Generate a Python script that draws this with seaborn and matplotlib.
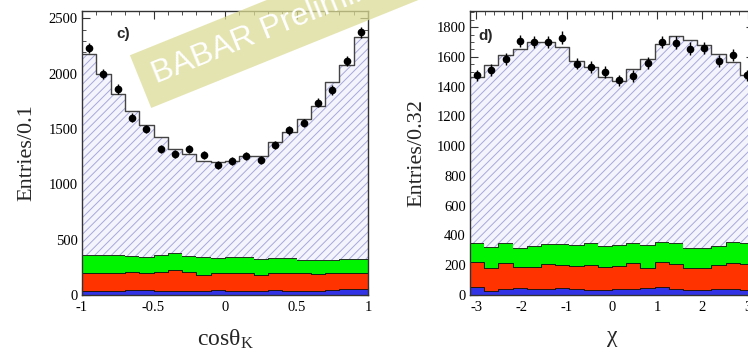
import numpy as np
import pandas as pd
import matplotlib
matplotlib.use("Agg")
import matplotlib.pyplot as plt
from matplotlib.ticker import MultipleLocator, FuncFormatter
from matplotlib.colors import to_rgba
import seaborn as sns

# ---------------- data ----------------
cos_edges = np.linspace(-1.0, 1.0, 21)
cos_data = [2233, 2000, 1864, 1603, 1500, 1324, 1273, 1324, 1264, 1173,
            1209, 1258, 1221, 1358, 1488, 1555, 1740, 1855, 2118, 2373]
cos_total = [2176, 1995, 1818, 1667, 1540, 1425, 1324, 1273, 1212, 1206,
             1212, 1258, 1258, 1380, 1470, 1590, 1712, 1924, 2076, 2333]
cos_green_top = [362, 362, 362, 353, 341, 362, 377, 353, 347, 332,
                 347, 341, 322, 332, 332, 317, 317, 317, 322, 322]
cos_red_top = [196, 196, 196, 211, 196, 211, 226, 205, 181, 196,
               202, 196, 181, 202, 196, 196, 190, 196, 202, 196]
cos_blue_top = [36, 39, 36, 45, 45, 39, 39, 36, 39, 45,
                39, 36, 39, 45, 36, 39, 39, 45, 51, 51]

chi_edges = np.linspace(-np.pi, np.pi, 21)
chi_data = [1476, 1510, 1588, 1707, 1700, 1700, 1729, 1555, 1532, 1499,
            1443, 1470, 1559, 1700, 1696, 1656, 1660, 1570, 1615, 1476]
chi_total = [1465, 1544, 1611, 1656, 1700, 1700, 1666, 1573, 1532, 1465,
             1436, 1517, 1588, 1689, 1738, 1711, 1678, 1622, 1566, 1476]
chi_green_top = [347, 324, 347, 317, 331, 340, 340, 335, 347, 331,
                 335, 347, 335, 358, 347, 313, 313, 331, 358, 347]
chi_red_top = [219, 183, 213, 190, 190, 206, 200, 196, 200, 190,
               196, 217, 183, 219, 206, 179, 179, 200, 213, 206]
chi_blue_top = [56, 27, 40, 44, 40, 40, 44, 38, 33, 33,
                38, 40, 44, 53, 40, 31, 33, 40, 40, 31]

# ---------------- style ----------------
sns.set_style("ticks")
plt.rcParams.update({
    "font.family": ["Liberation Serif", "DejaVu Serif"],
    "mathtext.fontset": "custom",
    "mathtext.rm": "Liberation Serif",
    "mathtext.it": "Liberation Serif:italic",
    "axes.unicode_minus": False,
    "hatch.linewidth": 0.7,
    "axes.linewidth": 1.0,
    "axes.edgecolor": "#333333",
})

COLORS = {"signal": "#f4f4fc", "green": "#00f400", "red": "#ff3300", "blue": "#3333e6"}
ORDER = ["signal", "green", "red", "blue"]
HATCH_COLOR = "#a8a8dc"

W, H = 748, 352
fig = plt.figure(figsize=(W / 100, H / 100), dpi=100)
ax1 = fig.add_axes([82 / W, 57 / H, 286 / W, 284.3 / H])
ax2 = fig.add_axes([470 / W, 57 / H, 284 / W, 284.3 / H])


def draw_panel(ax, edges, data, total, green_top, red_top, blue_top):
    bins = [float(e) for e in edges]
    centers = 0.5 * (edges[:-1] + edges[1:])
    data = np.asarray(data, float)
    total = np.asarray(total, float)
    green = np.asarray(green_top, float)
    red = np.asarray(red_top, float)
    blue = np.asarray(blue_top, float)
    comps = {"blue": blue, "red": red - blue, "green": green - red,
             "signal": total - green}
    df = pd.DataFrame({
        "x": np.tile(centers, len(ORDER)),
        "w": np.concatenate([comps[k] for k in ORDER]),
        "comp": np.repeat(ORDER, len(centers)),
    })
    sns.histplot(df, x="x", weights="w", hue="comp", hue_order=ORDER,
                 palette=COLORS, multiple="stack", bins=bins,
                 element="step", fill=True, alpha=1, edgecolor="#111111",
                 linewidth=0.6, legend=False, ax=ax)
    sig = to_rgba(COLORS["signal"])
    for coll in ax.collections:
        fc = coll.get_facecolor()
        if len(fc) and np.allclose(fc[0], sig, atol=0.01):
            coll.set_hatch("////")
            coll.set_edgecolor(HATCH_COLOR)
            coll.set_linewidth(0)
    sns.histplot(x=centers, weights=total, bins=bins, element="step",
                 fill=False, color="#444444", linewidth=1.0, ax=ax)
    ax.errorbar(centers, data, yerr=np.sqrt(data), fmt="o", color="black",
                ms=4.5, elinewidth=1.0, capsize=0, zorder=5)
    ax.set_xlim(edges[0], edges[-1])


def style_axes(ax, xmaj, xmin, ymaj, ymin):
    ax.xaxis.set_major_locator(MultipleLocator(xmaj))
    ax.xaxis.set_minor_locator(MultipleLocator(xmin))
    ax.yaxis.set_major_locator(MultipleLocator(ymaj))
    ax.yaxis.set_minor_locator(MultipleLocator(ymin))
    fmt = FuncFormatter(lambda v, p: "%g" % (round(v, 6) + 0.0))
    ax.xaxis.set_major_formatter(fmt)
    ax.yaxis.set_major_formatter(fmt)
    ax.tick_params(which="both", direction="in", top=True, right=True,
                   color="#333333", labelcolor="black", labelsize=10.5)
    ax.tick_params(which="major", length=6, width=0.8)
    ax.tick_params(which="minor", length=3, width=0.6)
    ax.tick_params(axis="y", pad=3)
    ax.tick_params(axis="x", pad=4)
    for s in ax.spines.values():
        s.set_visible(True)


draw_panel(ax1, cos_edges, cos_data, cos_total, cos_green_top, cos_red_top, cos_blue_top)
ax1.set_ylim(0, 2570)
style_axes(ax1, 0.5, 0.1, 500, 100)
ax1.set_xlabel(r"$\mathrm{cos\theta_{K}}$", fontsize=17)
ax1.set_ylabel("Entries/0.1", fontsize=16)
ax1.xaxis.set_label_coords(0.5, -0.115)
ax1.yaxis.set_label_coords(-0.16, 0.5)
ax1.text(0.143, 0.918, "c)", transform=ax1.transAxes, fontsize=11,
         fontweight="bold", family="Liberation Sans", ha="center", va="center")

draw_panel(ax2, chi_edges, chi_data, chi_total, chi_green_top, chi_red_top, chi_blue_top)
ax2.set_ylim(0, 1910)
style_axes(ax2, 1, 0.2, 200, 50)
ax2.set_xlabel(r"$\mathrm{\chi}$", fontsize=17)
ax2.set_ylabel("Entries/0.32", fontsize=16)
ax2.xaxis.set_label_coords(0.5, -0.115)
ax2.yaxis.set_label_coords(-0.152, 0.5)
ax2.text(0.056, 0.911, "d)", transform=ax2.transAxes, fontsize=11,
         fontweight="bold", family="Liberation Sans", ha="center", va="center")

fig.text(156 / W, 1 - 84 / H, "BABAR Preliminary", rotation=22,
         rotation_mode="anchor", ha="left", va="baseline", fontsize=23,
         color="white", family="Liberation Sans", zorder=10,
         bbox=dict(boxstyle="square,pad=0.42", facecolor="#dcdc96",
                   edgecolor="none", alpha=0.75))

fig.savefig("out.png", dpi=100)
